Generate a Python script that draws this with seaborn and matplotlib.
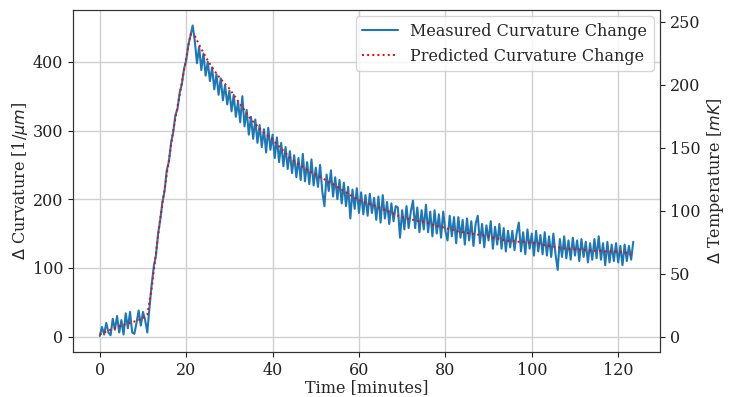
import numpy as np
import matplotlib
matplotlib.use("Agg")
import matplotlib.pyplot as plt
import seaborn as sns

# Measured curvature change, one sample every 0.5 minutes
measured_time = np.arange(0, 124, 0.5)
measured_curv = [
    # 0 - 11 min
    1, 14, 3, 20, 6, 2, 26, 10, 30, 6, 24, 3, 34, 12, 36, 6, 4, 20, 38, 16, 36, 24, 6,
    # 11.5 - 21.5 min (heating)
    42, 75, 102, 118, 150, 170, 196, 212, 242, 255, 282, 298, 322, 332, 355, 368, 390, 402, 425, 438, 453,
    # 22 - 50 min
    430, 398, 422, 388, 412, 380, 400, 372, 392, 360, 382, 352, 376, 344, 366, 338, 358, 328, 352, 320,
    342, 312, 350, 306, 330, 294, 320, 288, 316, 282, 308, 276, 302, 268, 304, 272, 294, 260, 290, 254,
    282, 248, 276, 244, 270, 238, 264, 232, 260, 228, 266, 226, 254, 222, 258, 220, 246,
    # 50.5 - 70 min
    218, 250, 212, 190, 236, 212, 242, 204, 232, 200, 228, 194, 224, 190, 218, 172, 214, 186, 216, 180,
    210, 178, 206, 176, 208, 180, 202, 170, 204, 166, 206, 172, 196, 164, 194, 168, 190, 188, 144, 184,
    # 70.5 - 95 min
    156, 190, 158, 182, 198, 158, 188, 152, 184, 156, 192, 152, 182, 146, 184, 150, 178, 144, 182, 154,
    140, 176, 146, 174, 136, 174, 144, 170, 134, 172, 140, 168, 132, 164, 176, 136, 164, 130, 162, 140,
    168, 128, 160, 134, 164, 128, 158, 124, 154, 130,
    # 95.5 - 123.5 min
    154, 126, 150, 166, 124, 152, 120, 156, 128, 150, 118, 154, 124, 148, 120, 152, 118, 146, 116, 150,
    120, 97, 142, 116, 146, 114, 140, 112, 144, 118, 140, 110, 142, 116, 138, 108, 136, 112, 142, 114,
    146, 112, 136, 104, 138, 108, 134, 110, 136, 108, 132, 104, 134, 110, 132, 112, 138,
]

# Predicted curvature change, one value per minute
predicted_time = np.arange(0, 124, 1)
predicted_curv = [
    3, 6, 9, 11, 14, 16, 18, 20, 22, 24, 27, 32, 70, 122, 172, 215, 257, 300, 335, 370,
    405, 440, 438, 425, 413, 402, 392, 383, 375, 368, 361, 352, 343, 334, 325, 316, 310, 303, 297, 292,
    287, 280, 274, 267, 261, 255, 251, 247, 243, 239, 236, 232, 229, 225, 222, 218, 214, 210, 206, 202,
    199, 196, 194, 192, 190, 187, 184, 182, 179, 176, 174, 172, 171, 169, 168, 167, 165, 163, 161, 160,
    158, 156, 155, 153, 152, 151, 150, 149, 148, 147, 146, 144, 143, 141, 140, 139, 139, 138, 138, 137,
    137, 136, 135, 133, 132, 131, 130, 129, 128, 128, 127, 127, 126, 126, 125, 125, 125, 124, 124, 124,
    124, 123, 122, 119,
]

temp_ticks = [0, 50, 100, 150, 200, 250]

sns.set_style("ticks")
plt.rcParams["font.family"] = ["DejaVu Serif"]
plt.rcParams["mathtext.fontset"] = "dejavusans"
fs = 11.5

fig, ax = plt.subplots(figsize=(7.33, 3.97), dpi=100)
fig.subplots_adjust(left=0.0996, right=0.9005, top=0.975, bottom=0.113)

sns.lineplot(x=measured_time, y=measured_curv, ax=ax, color="#1f77b4", linewidth=1.5,
             label="Measured Curvature Change")
sns.lineplot(x=predicted_time, y=predicted_curv, ax=ax, color="red", linewidth=1.4,
             linestyle=":", label="Predicted Curvature Change")

ax.set_xlim(-6.2, 129.7)
ax.set_ylim(-22.6, 475.6)
ax.set_xticks([0, 20, 40, 60, 80, 100, 120])
ax.set_yticks([0, 100, 200, 300, 400])
ax.grid(True, color="#d0d0d0", linewidth=1)
ax.set_xlabel("Time [minutes]", fontsize=fs, labelpad=0)
ax.set_ylabel("$\\Delta$ Curvature [1/$\\mu m$]", fontsize=fs, labelpad=2)
ax.tick_params(labelsize=fs, colors="#222222")
for s in ax.spines.values():
    s.set_visible(True)
    s.set_color("#333333")

ax2 = ax.twinx()
ax2.set_ylim(-12.35, 259.4)
ax2.set_yticks(temp_ticks)
ax2.set_ylabel("$\\Delta$ Temperature [$mK$]", fontsize=fs, labelpad=3)
ax2.tick_params(labelsize=fs, colors="#222222")
for s in ax2.spines.values():
    s.set_color("#333333")

ax.legend(loc="upper right", fontsize=fs, frameon=True, handlelength=2.2,
          borderaxespad=0.4)

fig.savefig("out.png", dpi=100)
